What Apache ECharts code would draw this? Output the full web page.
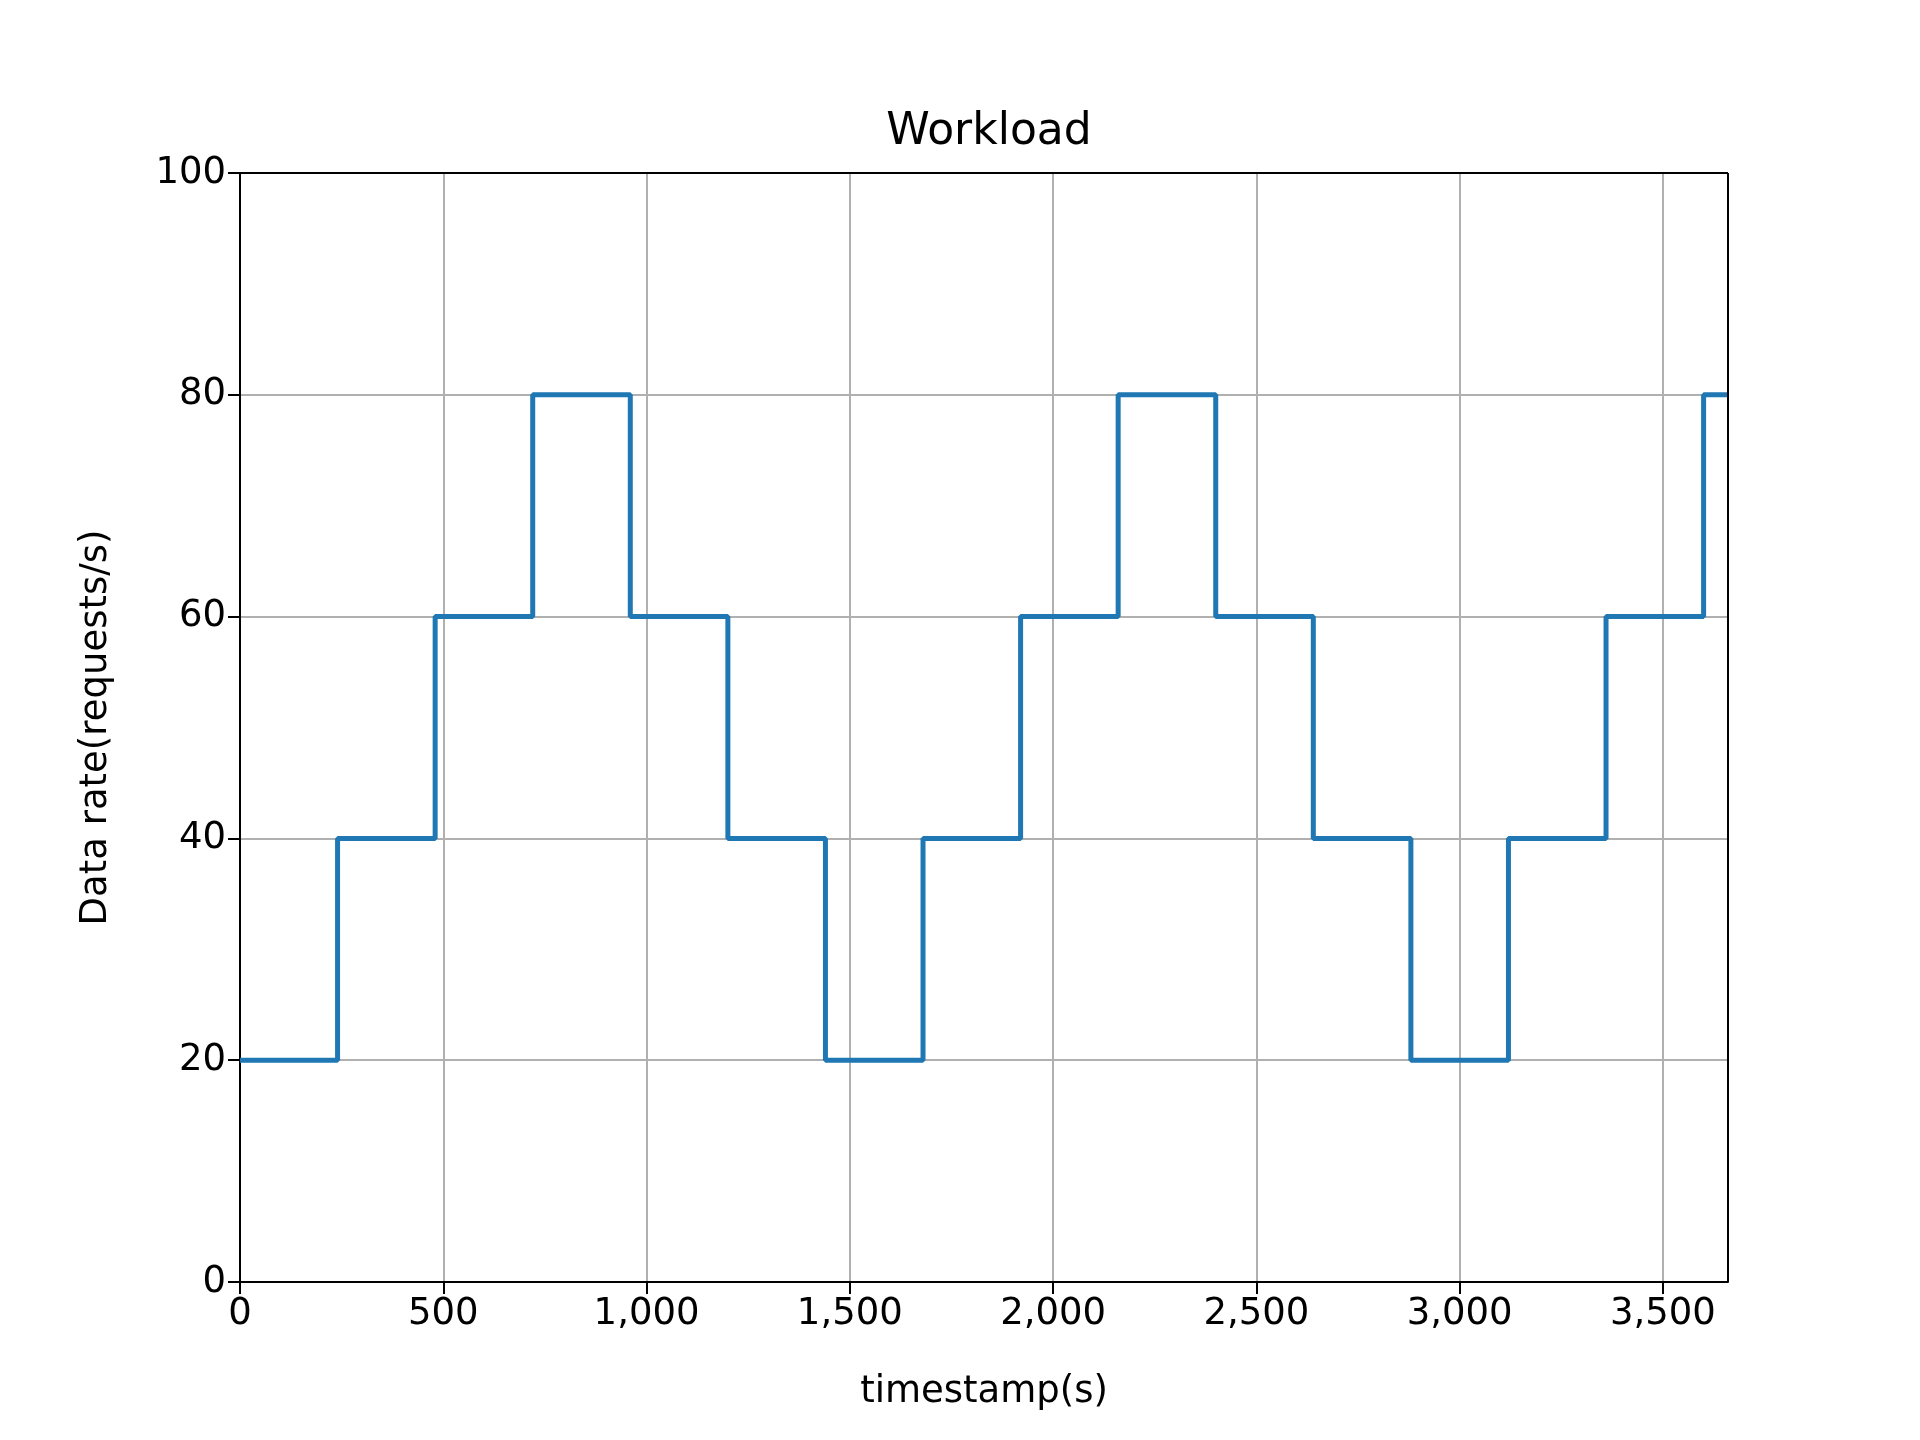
<!DOCTYPE html>
<html>
<head>
<meta charset="utf-8"/>
<script src="https://cdn.jsdelivr.net/npm/echarts@6/dist/echarts.min.js"></script>
<style>body{margin:0;background:#fff}</style>
</head>
<body>
<div id="main" style="width:1920px;height:1440px;"></div>
<script>
// step start times (s) and rates (requests/s)
var times = [0, 240, 480, 720, 960, 1200, 1440, 1680, 1920, 2160, 2400, 2640, 2880, 3120, 3360, 3600, 3660];
var rates = [20, 40, 60, 80, 60, 40, 20, 40, 60, 80, 60, 40, 20, 40, 60, 80, 80];
var xTicks = [0, 500, 1000, 1500, 2000, 2500, 3000, 3500];

var font = 'DejaVu Sans';
var myChart = echarts.init(document.getElementById('main'));
myChart.setOption({
  animation: false,
  title: {
    text: 'Workload', left: 984, textAlign: 'center', top: 106,
    textStyle: {fontFamily: font, fontSize: 44, fontWeight: 'normal', color: '#000'}
  },
  grid: {left: 240, right: 192, top: 173, bottom: 158},
  xAxis: {
    type: 'value', min: 0, max: 3660, interval: 500,
    name: 'timestamp(s)', nameLocation: 'middle', nameGap: 92,
    nameTextStyle: {fontFamily: font, fontSize: 37, color: '#000'},
    axisLine: {lineStyle: {color: '#000', width: 2}},
    axisTick: {length: 12, customValues: xTicks, lineStyle: {color: '#000', width: 2}},
    axisLabel: {fontFamily: font, fontSize: 37, color: '#000', margin: 14, customValues: xTicks},
    splitLine: {show: true, lineStyle: {color: '#b0b0b0', width: 2}}
  },
  yAxis: {
    type: 'value', min: 0, max: 100, interval: 20,
    name: 'Data rate(requests/s)', nameLocation: 'middle', nameGap: 125,
    nameTextStyle: {fontFamily: font, fontSize: 37, color: '#000'},
    axisLine: {show: true, lineStyle: {color: '#000', width: 2}},
    axisTick: {show: true, length: 12, lineStyle: {color: '#000', width: 2}},
    axisLabel: {fontFamily: font, fontSize: 37, color: '#000', margin: 14},
    splitLine: {show: true, lineStyle: {color: '#b0b0b0', width: 2}}
  },
  series: [{
    type: 'line', step: 'end', showSymbol: false,
    data: times.map(function (t, i) { return [t, rates[i]]; }),
    lineStyle: {color: '#1f77b4', width: 5},
    markLine: {
      silent: true, symbol: 'none', label: {show: false},
      lineStyle: {color: '#000', width: 2, type: 'solid'},
      data: [{xAxis: 3660}, {yAxis: 100}]
    }
  }]
});
</script>
</body>
</html>
